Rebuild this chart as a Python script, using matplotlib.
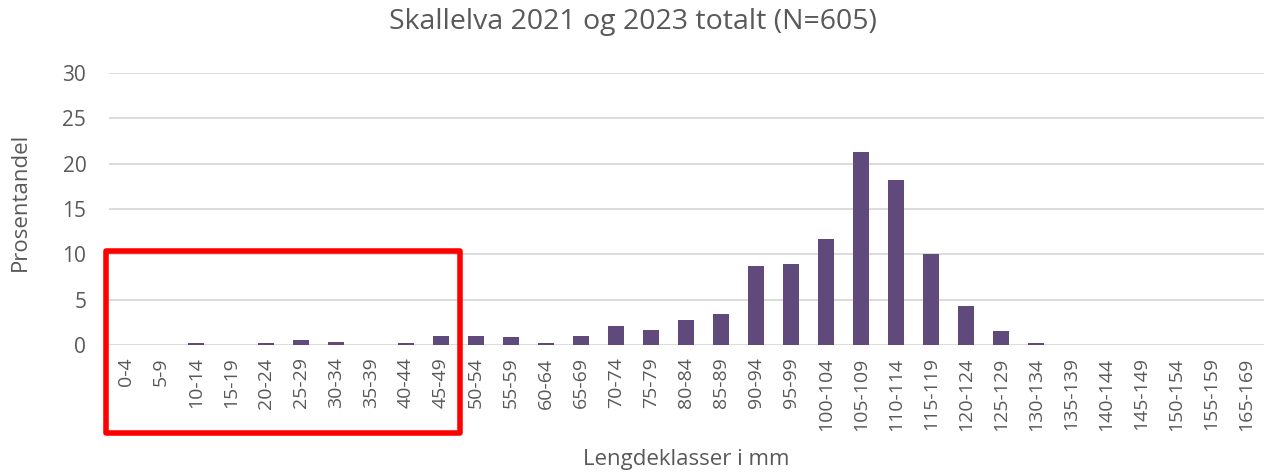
import matplotlib.pyplot as plt
from matplotlib.patches import Rectangle

# note: the source chart has no 160-164 class
categories = [f"{lo}-{lo + 4}" for lo in range(0, 160, 5)] + ["165-169"]
percent = [
    0, 0, 0.17, 0, 0.17, 0.5, 0.33, 0, 0.17, 0.99,
    0.99, 0.83, 0.17, 0.99, 2.15, 1.65, 2.81, 3.47, 8.76, 8.93,
    11.74, 21.3, 18.25, 10.0, 4.3, 1.49, 0.17, 0, 0, 0,
    0, 0, 0,
]

text_color = "#595959"
plt.rcParams["font.family"] = ["Open Sans", "DejaVu Sans"]

W, H = 1266, 472
fig = plt.figure(figsize=(W / 100, H / 100), dpi=100)
ax = fig.add_axes([108.5 / W, 1 - 345 / H, 1155 / W, 272 / H])

x = range(len(categories))
ax.bar(x, percent, width=0.46, color="#604A7B", zorder=3)

ax.set_xlim(-0.5, len(categories) - 0.5)
ax.set_ylim(0, 30)
ax.set_yticks(range(0, 31, 5))
ax.set_xticks(list(x))
ax.set_xticklabels(categories, rotation=90, fontsize=14, color=text_color)
ax.tick_params(axis="y", labelsize=15, colors=text_color, length=0, pad=16)
ax.tick_params(axis="x", length=0, pad=9)
ax.grid(axis="y", color="#D9D9D9", linewidth=1.3, zorder=0)
for side in ["top", "right", "left", "bottom"]:
    ax.spines[side].set_visible(False)

fig.text(633 / W, 1 - 22 / H, "Skallelva 2021 og 2023 totalt (N=605)",
         fontsize=20.5, color=text_color, ha="center", va="center")
fig.text(686 / W, 1 - 459 / H, "Lengdeklasser i mm",
         fontsize=16, color=text_color, ha="center", va="center")
fig.text(20 / W, 1 - 202 / H, "Prosentandel", rotation=90,
         fontsize=16, color=text_color, ha="center", va="center")

# red highlight box around the smallest length classes
box = Rectangle((-0.57, -9.7), 10.1, 20.05, fill=False, edgecolor="#FF0000",
                linewidth=4, clip_on=False, zorder=5, joinstyle="round")
ax.add_patch(box)

fig.savefig("out.png", dpi=100)
